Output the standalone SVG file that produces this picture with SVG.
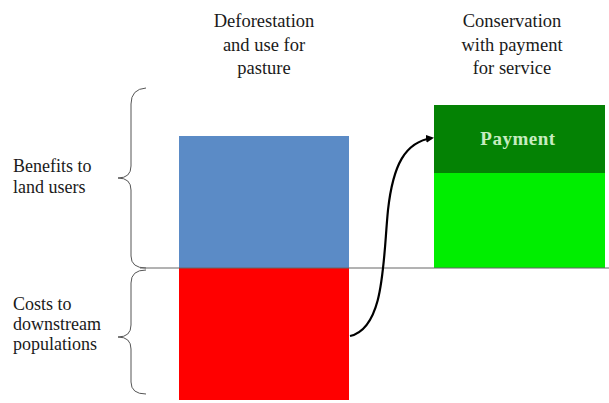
<svg xmlns="http://www.w3.org/2000/svg" width="609" height="403" viewBox="0 0 609 403">
<style>
.t{font-family:"Liberation Serif","DejaVu Serif",serif;font-size:18.5px;fill:#1a1a1a;text-anchor:middle}
.l{font-family:"Liberation Serif","DejaVu Serif",serif;font-size:18px;fill:#1a1a1a}
.br{fill:none;stroke:#555;stroke-width:1}
</style>
<defs>
<marker id="ah" markerWidth="8" markerHeight="8" refX="6" refY="4" orient="auto" markerUnits="userSpaceOnUse">
<path d="M0,0 L8,4 L0,8 Z" fill="#000"/>
</marker>
</defs>
<rect width="609" height="403" fill="#fff"/>
<g id="title-deforestation">
<text class="t" x="264" y="27">Deforestation</text>
<text class="t" x="264" y="51">and use for</text>
<text class="t" x="264" y="74">pasture</text>
</g>
<g id="title-conservation">
<text class="t" x="512" y="27">Conservation</text>
<text class="t" x="512" y="51">with payment</text>
<text class="t" x="512" y="74">for service</text>
</g>
<g id="label-benefits">
<text class="l" x="13" y="172">Benefits to</text>
<text class="l" x="13" y="193">land users</text>
<path class="br" d="M146,88 Q131,89 131,104 L131,166 Q131,178 118,178 Q131,178 131,190 L131,256 Q131,268 146,268"/>
</g>
<g id="label-costs">
<text class="l" x="13" y="310">Costs to</text>
<text class="l" x="13" y="330">downstream</text>
<text class="l" x="13" y="350">populations</text>
<path class="br" d="M146,270 Q131,270 131,283 L131,325 Q131,337 118,337 Q131,337 131,349 L131,382 Q131,394 146,394"/>
</g>
<g id="bar-deforestation">
<rect x="179" y="136" width="170" height="132" fill="#5b8bc6"/>
<rect x="179" y="268" width="170" height="132" fill="#ff0000"/>
</g>
<g id="bar-conservation">
<rect x="434" y="173" width="171" height="95" fill="#00ee00"/>
<rect x="434" y="105" width="171" height="68" fill="#048204"/>
<text x="518" y="145" font-family="Liberation Serif, DejaVu Serif, serif" font-size="19" font-weight="bold" letter-spacing="0.5" fill="#c6ecc0" text-anchor="middle">Payment</text>
</g>
<g id="connectors">
<line x1="140" y1="268" x2="609" y2="268" stroke="#666" stroke-width="1"/>
<path d="M350,336 C385,328 383,260 388,210 C393,165 405,142 432,138" fill="none" stroke="#000" stroke-width="2.2" marker-end="url(#ah)"/>
</g>
</svg>
